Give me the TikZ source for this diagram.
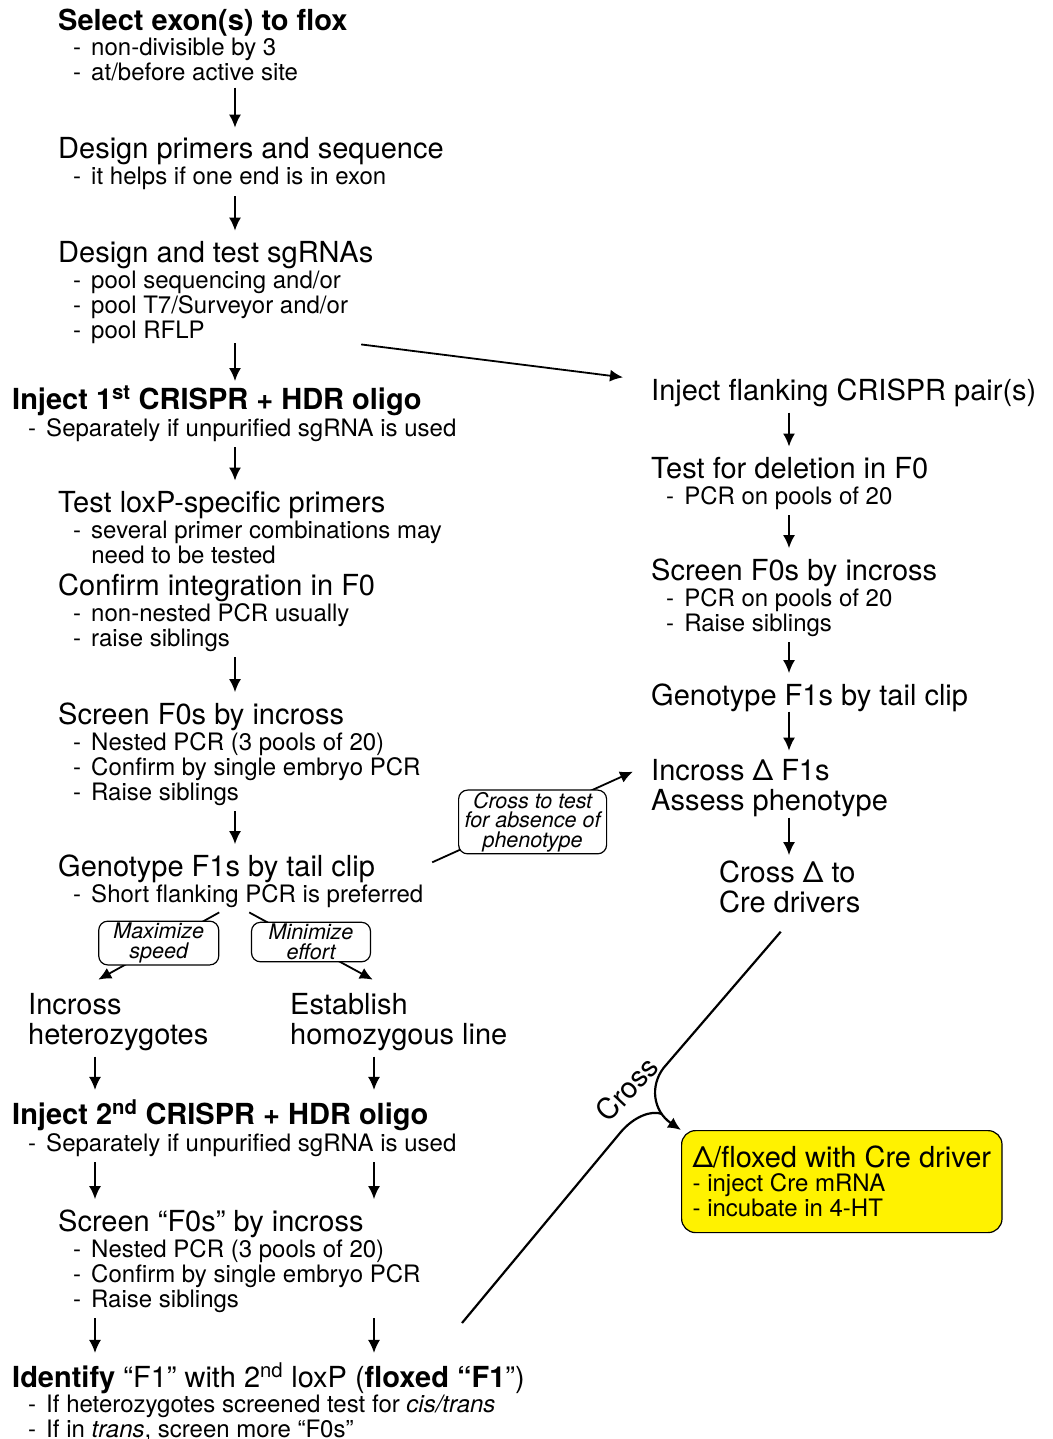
\documentclass[tikz,border=0pt]{standalone}
\usepackage{fontspec}
\setmainfont{TeX Gyre Heros}
\usetikzlibrary{arrows.meta,positioning}

\newcommand{\dsh}{-\hspace{0.42em}}
\tikzstyle{head} = [inner sep=0pt, anchor=base west, font=\fontsize{29}{30}\selectfont]
\tikzstyle{headb} = [head, font=\fontsize{29}{30}\selectfont\bfseries]
\tikzstyle{items} = [inner sep=0pt, anchor=base west, align=left, font=\fontsize{24}{25}\selectfont]
\tikzstyle{pair} = [inner sep=0pt, anchor=base west, align=left, font=\fontsize{29}{30}\selectfont]
\tikzstyle{note} = [rectangle, draw, line width=1.2pt, rounded corners=9pt, fill=white, align=center,
    inner xsep=4pt, inner ysep=2pt, font=\fontsize{21.5}{19.5}\selectfont\itshape]
\tikzstyle{crebox} = [rectangle, draw, line width=1.2pt, fill=yellow, rounded corners=14pt, align=left,
    anchor=north west, inner xsep=11pt, inner ysep=11pt, minimum width=318pt, minimum height=102pt,
    font=\fontsize{24}{25}\selectfont]
\tikzstyle{line} = [draw, line width=1.8pt, -{Latex[length=13pt,width=12pt]}]
\tikzstyle{down} = [line, shorten <=6pt, shorten >=10pt]
\tikzstyle{plain} = [draw, line width=2.2pt]

\begin{document}
\begin{tikzpicture}[x=1pt,y=-1pt]
  \useasboundingbox (0,0) rectangle (1052,1439);
  \coordinate (colA) at (235,0);
  \coordinate (colB) at (95,0);
  \coordinate (colC) at (374,0);
  \coordinate (colR) at (789,0);

  % left column: floxing (multi-line nodes sit on their last baseline)
  \node [headb] (select) at (58,31) {Select exon(s) to flox};
  \node [items] (select-l) at (73,81) {\dsh non-divisible by 3\\\dsh at/before active site};
  \node [head] (design) at (58,159) {Design primers and sequence};
  \node [items] (design-l) at (73,185) {\dsh it helps if one end is in exon};
  \node [head] (sgrna) at (58,262) {Design and test sgRNAs};
  \node [items] (sgrna-l) at (73,338) {\dsh pool sequencing and/or\\\dsh pool T7/Surveyor and/or\\\dsh pool RFLP};
  \node [headb] (inject1) at (12,409) {Inject 1\textsuperscript{st} CRISPR + HDR oligo};
  \node [items] (inject1-l) at (28,436) {\dsh Separately if unpurified sgRNA is used};
  \node [head] (testlox) at (58,512) {Test loxP-specific primers};
  \node [items] (testlox-l) at (73,563) {\dsh several primer combinations may\\\hphantom{\dsh}need to be tested};
  \node [head] (confirm) at (58,595) {Confirm integration in F0};
  \node [items] (confirm-l) at (73,646) {\dsh non-nested PCR usually\\\dsh raise siblings};
  \node [head] (screen) at (58,724) {Screen F0s by incross};
  \node [items] (screen-l) at (73,800) {\dsh Nested PCR (3 pools of 20)\\\dsh Confirm by single embryo PCR\\\dsh Raise siblings};
  \node [head] (geno) at (58,876) {Genotype F1s by tail clip};
  \node [items] (geno-l) at (73,902) {\dsh Short flanking PCR is preferred};
  \node [pair] (incross) at (28,1044) {Incross\\heterozygotes};
  \node [pair] (establish) at (290,1044) {Establish\\homozygous line};
  \node [headb] (inject2) at (12,1124) {Inject 2\textsuperscript{nd} CRISPR + HDR oligo};
  \node [items] (inject2-l) at (28,1151) {\dsh Separately if unpurified sgRNA is used};
  \node [head] (screen2) at (58,1231) {Screen “F0s” by incross};
  \node [items] (screen2-l) at (73,1307) {\dsh Nested PCR (3 pools of 20)\\\dsh Confirm by single embryo PCR\\\dsh Raise siblings};
  \node [head] (identify) at (12,1387) {\textbf{Identify} “F1” with 2\textsuperscript{nd} loxP (\textbf{floxed “F1}”)};
  \node [items] (identify-l) at (28,1437) {\dsh If heterozygotes screened test for \textit{cis/trans}\\\dsh If in \textit{trans}, screen more “F0s”};

  % right column: deletion
  \node [head] (flank) at (651,400) {Inject flanking CRISPR pair(s)};
  \node [head] (deltest) at (651,478) {Test for deletion in F0};
  \node [items] (deltest-l) at (666,504) {\dsh PCR on pools of 20};
  \node [head] (rscreen) at (651,580) {Screen F0s by incross};
  \node [items] (rscreen-l) at (666,631) {\dsh PCR on pools of 20\\\dsh Raise siblings};
  \node [head] (rgeno) at (651,705) {Genotype F1s by tail clip};
  \node [pair] (rincross) at (651,810) {Incross Δ F1s\\Assess phenotype};
  \node [pair] (credrv) at (719,912) {Cross Δ to\\Cre drivers};
  \node [crebox] (cre) at (681,1130) {{\fontsize{29}{30}\selectfont Δ/floxed with Cre driver}\\[-1pt]- inject Cre mRNA\\- incubate in 4-HT};
  \coordinate (crossfrom) at (462,1323);

  \path [down] (select-l.south -| colA) -- (design.north -| colA);
  \path [down] (design-l.south -| colA) -- (sgrna.north -| colA);
  \path [down, shorten <=0pt, shorten >=5pt] (sgrna-l.south -| colA) -- (inject1.north -| colA);
  \path [down] (inject1-l.south -| colA) -- (testlox.north -| colA);
  \path [down] (confirm-l.south -| colA) -- (screen.north -| colA);
  \path [down] (screen-l.south -| colA) -- (geno.north -| colA);
  \path [down] (incross.south -| colB) -- (inject2.north -| colB);
  \path [down] (establish.south -| colC) -- (inject2.north -| colC);
  \path [down] (inject2-l.south -| colB) -- (screen2.north -| colB);
  \path [down] (inject2-l.south -| colC) -- (screen2.north -| colC);
  \path [down] (screen2-l.south -| colB) -- (identify.north -| colB);
  \path [down] (screen2-l.south -| colC) -- (identify.north -| colC);

  \path [down] (flank.south -| colR) -- (deltest.north -| colR);
  \path [down] (deltest-l.south -| colR) -- (rscreen.north -| colR);
  \path [down] (rscreen-l.south -| colR) -- (rgeno.north -| colR);
  \path [down, shorten <=0pt, shorten >=8pt] (rgeno.south -| colR) -- (rincross.north -| colR);
  \path [down, shorten <=1pt, shorten >=5pt] (rincross.south -| colR) -- (credrv.north -| colR);

  \path [line] ([xshift=13pt,yshift=-1pt]sgrna-l.south east) -- ([xshift=-28pt,yshift=15pt]flank.west);
  \path [line] ([xshift=-29pt,yshift=-5pt]geno-l.south) -- node [note, minimum width=120pt, yshift=3pt] {Maximize\\speed}
    ([xshift=-20pt,yshift=13pt]incross.north);
  \path [line] ([xshift=1pt,yshift=-5pt]geno-l.south) -- node [note, minimum width=119pt, yshift=4pt] {Minimize\\effort}
    ([xshift=-26pt,yshift=13pt]establish.north);
  \path [line] ([xshift=57pt,yshift=6pt]geno.east) -- node [note, minimum width=148pt, yshift=-5pt] {Cross to test\\for absence of\\phenotype}
    ([xshift=-18pt,yshift=16pt]rincross.west);

  % the cross into the yellow box
  \path [line, line width=2.2pt] ([xshift=-9pt,yshift=-19pt]credrv.south) -- ++(-117,136)
    .. controls +(-14,18) and +(-28,-19) .. (cre.north west);
  \path [plain] (crossfrom) -- ++(158,-190) .. controls +(14,-17) and +(-10,-4) .. ([xshift=-19pt,yshift=16pt]cre.north west);
  \node [font=\fontsize{29}{30}\selectfont, rotate=47, inner sep=0pt] (crosslbl) at (627,1089) {Cross};
\end{tikzpicture}
\end{document}
